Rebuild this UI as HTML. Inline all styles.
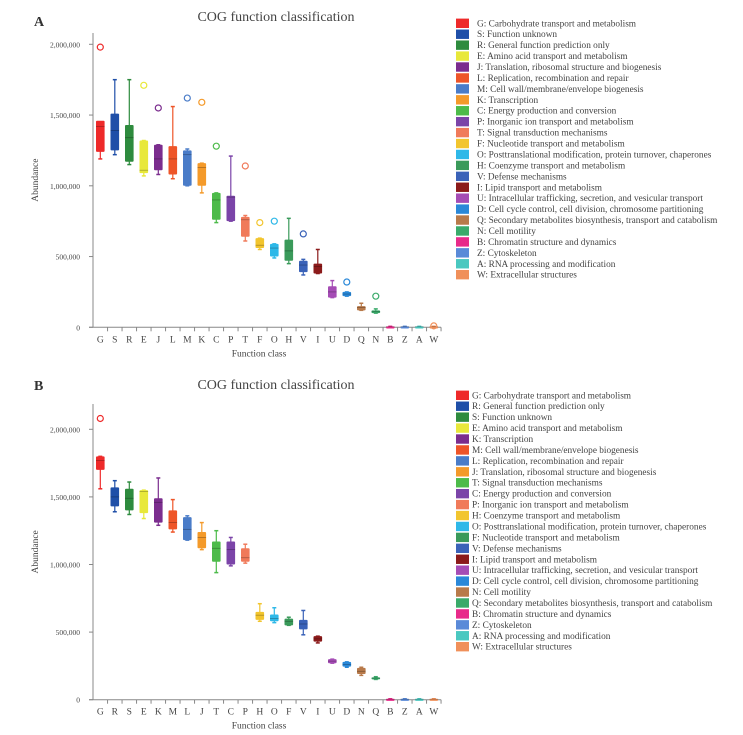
<!DOCTYPE html>
<html><head><meta charset="utf-8">
<style>
body{margin:0;background:#fff;}
svg{display:block;font-family:"Liberation Serif",serif;}
</style></head>
<body>
<svg id="chart" width="743" height="735" viewBox="0 0 743 735"></svg>
<script>
const palette=["#ee2a2a","#1f4fa8","#2e8b3e","#e8e83a","#7b2d8e","#ee5528","#4a7cc8","#f49a2a","#4dbb4a","#7b44a8","#f07a5a","#f2c52e","#2eb8e8","#3a9a5a","#3a62b8","#8b1a1a","#a54cb5","#2a88d8","#b87a4a","#3aaa6a","#e82a8a","#5a8ad8","#4ac8c0","#f0905a"];
const yTicks=[0,500000,1000000,1500000,2000000];
const yTickLabels=["0","500,000","1,000,000","1,500,000","2,000,000"];

// Panel A
const catsA=["G","S","R","E","J","L","M","K","C","P","T","F","O","H","V","I","U","D","Q","N","B","Z","A","W"];
const legendA=["G: Carbohydrate transport and metabolism","S: Function unknown","R: General function prediction only","E: Amino acid transport and metabolism","J: Translation, ribosomal structure and biogenesis","L: Replication, recombination and repair","M: Cell wall/membrane/envelope biogenesis","K: Transcription","C: Energy production and conversion","P: Inorganic ion transport and metabolism","T: Signal transduction mechanisms","F: Nucleotide transport and metabolism","O: Posttranslational modification, protein turnover, chaperones","H: Coenzyme transport and metabolism","V: Defense mechanisms","I: Lipid transport and metabolism","U: Intracellular trafficking, secretion, and vesicular transport","D: Cell cycle control, cell division, chromosome partitioning","Q: Secondary metabolites biosynthesis, transport and catabolism","N: Cell motility","B: Chromatin structure and dynamics","Z: Cytoskeleton","A: RNA processing and modification","W: Extracellular structures"];
const minA=[1190000,1220000,1150000,1070000,1080000,1050000,1000000,950000,740000,750000,610000,550000,490000,450000,370000,380000,210000,220000,120000,100000,2000,2000,2000,2000];
const q1A=[1240000,1250000,1170000,1090000,1110000,1080000,1000000,1000000,760000,750000,640000,560000,500000,470000,390000,380000,210000,220000,120000,100000,2000,2000,2000,2000];
const medA=[1420000,1390000,1340000,1110000,1190000,1190000,1220000,1130000,900000,920000,760000,580000,560000,540000,440000,430000,250000,235000,140000,110000,4000,4000,4000,4000];
const q3A=[1460000,1510000,1430000,1320000,1290000,1280000,1250000,1160000,950000,930000,780000,630000,590000,620000,470000,450000,290000,250000,150000,120000,6000,6000,6000,6000];
const maxA=[1450000,1750000,1750000,1320000,1290000,1560000,1260000,1160000,950000,1210000,790000,630000,590000,770000,480000,550000,330000,250000,170000,130000,7000,7000,7000,7000];
const outA=[1980000,null,null,1710000,1550000,null,1620000,1590000,1280000,null,1140000,740000,750000,null,660000,null,null,320000,null,220000,null,null,null,10000];

// Panel B
const catsB=["G","R","S","E","K","M","L","J","T","C","P","H","O","F","V","I","U","D","N","Q","B","Z","A","W"];
const legendB=["G: Carbohydrate transport and metabolism","R: General function prediction only","S: Function unknown","E: Amino acid transport and metabolism","K: Transcription","M: Cell wall/membrane/envelope biogenesis","L: Replication, recombination and repair","J: Translation, ribosomal structure and biogenesis","T: Signal transduction mechanisms","C: Energy production and conversion","P: Inorganic ion transport and metabolism","H: Coenzyme transport and metabolism","O: Posttranslational modification, protein turnover, chaperones","F: Nucleotide transport and metabolism","V: Defense mechanisms","I: Lipid transport and metabolism","U: Intracellular trafficking, secretion, and vesicular transport","D: Cell cycle control, cell division, chromosome partitioning","N: Cell motility","Q: Secondary metabolites biosynthesis, transport and catabolism","B: Chromatin structure and dynamics","Z: Cytoskeleton","A: RNA processing and modification","W: Extracellular structures"];
const minB=[1560000,1390000,1370000,1340000,1290000,1240000,1180000,1110000,940000,990000,1010000,580000,570000,550000,480000,420000,270000,240000,180000,150000,2000,2000,2000,2000];
const q1B=[1700000,1430000,1400000,1380000,1310000,1260000,1180000,1120000,1020000,1000000,1020000,590000,580000,550000,520000,430000,270000,245000,190000,150000,2000,2000,2000,2000];
const medB=[1770000,1500000,1490000,1540000,1460000,1310000,1260000,1200000,1120000,1110000,1050000,625000,600000,580000,560000,450000,285000,260000,210000,160000,4000,4000,4000,4000];
const q3B=[1800000,1570000,1560000,1550000,1490000,1400000,1350000,1240000,1170000,1170000,1120000,650000,630000,600000,590000,470000,300000,280000,235000,165000,6000,6000,6000,6000];
const maxB=[1800000,1620000,1610000,1550000,1640000,1480000,1360000,1310000,1250000,1200000,1150000,710000,680000,610000,660000,470000,300000,280000,240000,170000,7000,7000,7000,7000];
const outB=[2080000,null,null,null,null,null,null,null,null,null,null,null,null,null,null,null,null,null,null,null,null,null,null,null];

const svg=document.getElementById('chart');
const NS="http://www.w3.org/2000/svg";
function mk(tag,attrs,parent,text){const e=document.createElementNS(NS,tag);for(const k in attrs)e.setAttribute(k,attrs[k]);if(text!=null)e.textContent=text;(parent||svg).appendChild(e);return e;}

function panel(p){
  const g=mk('g',{});
  
  
  const y=v=>p.y0-(v/2000000)*(p.y0-p.y2m);
  const x=i=>p.xg+i*p.step;
  let t=mk('text',{x:34,y:p.labelY,'font-size':14,'font-weight':'bold',fill:'#333'},g,p.id);
  
  t=mk('text',{x:276,y:p.titleY,'font-size':14,fill:'#444','text-anchor':'middle'},g,'COG function classification');
  
  // axes
  let a=mk('line',{x1:93,y1:p.axTop,x2:93,y2:p.y0,stroke:'#888','stroke-width':1},g);
  
  a=mk('line',{x1:89,y1:p.y0,x2:x(23)+p.step/2,y2:p.y0,stroke:'#888','stroke-width':1},g);
  
  yTicks.forEach((v,i)=>{
    const tk=mk('line',{x1:89,y1:y(v),x2:93,y2:y(v),stroke:'#888'},g);
    
    const tl=mk('text',{x:80,y:y(v)+3,'font-size':7.5,fill:'#444','text-anchor':'end'},g,yTickLabels[i]);
    
  });
  p.cats.forEach((c,i)=>{
    const tk=mk('line',{x1:x(i)+p.step/2,y1:p.y0,x2:x(i)+p.step/2,y2:p.y0+4,stroke:'#888'},g);
    
    const tl=mk('text',{x:x(i),y:p.y0+15,'font-size':9.5,fill:'#444','text-anchor':'middle'},g,c);
    
    const col=palette[i];
    const bg=mk('g',{},g);
    
    const cx=x(i),hw=4.3;
    mk('line',{x1:cx,y1:y(p.max[i]),x2:cx,y2:y(p.min[i]),stroke:col,'stroke-width':1.2},bg);
    mk('line',{x1:cx-2,y1:y(p.max[i]),x2:cx+2,y2:y(p.max[i]),stroke:col,'stroke-width':1.5},bg);
    mk('line',{x1:cx-2,y1:y(p.min[i]),x2:cx+2,y2:y(p.min[i]),stroke:col,'stroke-width':1.5},bg);
    const top=y(p.q3[i]),bot=y(p.q1[i]);
    mk('rect',{x:cx-hw,y:top,width:hw*2,height:Math.max(bot-top,2),fill:col,rx:1},bg);
    mk('line',{x1:cx-hw,y1:y(p.med[i]),x2:cx+hw,y2:y(p.med[i]),stroke:'rgba(0,0,0,0.3)','stroke-width':0.8},bg);
    if(p.out[i]!=null){
      const o=mk('circle',{cx:cx,cy:y(p.out[i]),r:3,fill:'none',stroke:col,'stroke-width':1.2},g);
      
    }
  });
  t=mk('text',{x:259,y:p.y0+29,'font-size':9.5,fill:'#444','text-anchor':'middle'},g,'Function class');
  
  const ay=(p.axTop+p.y0)/2;
  t=mk('text',{x:38,y:ay,'font-size':9.5,fill:'#444','text-anchor':'middle',transform:'rotate(-90 38 '+ay+')'},g,'Abundance');
  
  // legend
  const lg=mk('g',{},g);
  
  p.legend.forEach((s,i)=>{
    const ly=p.legY+i*10.93;
    const e=mk('g',{},lg);
    
    mk('rect',{x:456,y:ly-4.7,width:13,height:9.4,fill:palette[i]},e);
    mk('text',{x:p.legTX,y:ly+3,'font-size':9.3,fill:'#444'},e,s);
  });
}
panel({id:'A',cats:catsA,legend:legendA,min:minA,q1:q1A,med:medA,q3:q3A,max:maxA,out:outA,y0:327.3,y2m:44.3,axTop:33,xg:100.3,step:14.5,labelY:26,titleY:21,legY:23.3,legTX:477});
panel({id:'B',cats:catsB,legend:legendB,min:minB,q1:q1B,med:medB,q3:q3B,max:maxB,out:outB,y0:699.7,y2m:429.3,axTop:404,xg:100.3,step:14.5,labelY:390,titleY:389,legY:395.3,legTX:472});
</script>
</body></html>
